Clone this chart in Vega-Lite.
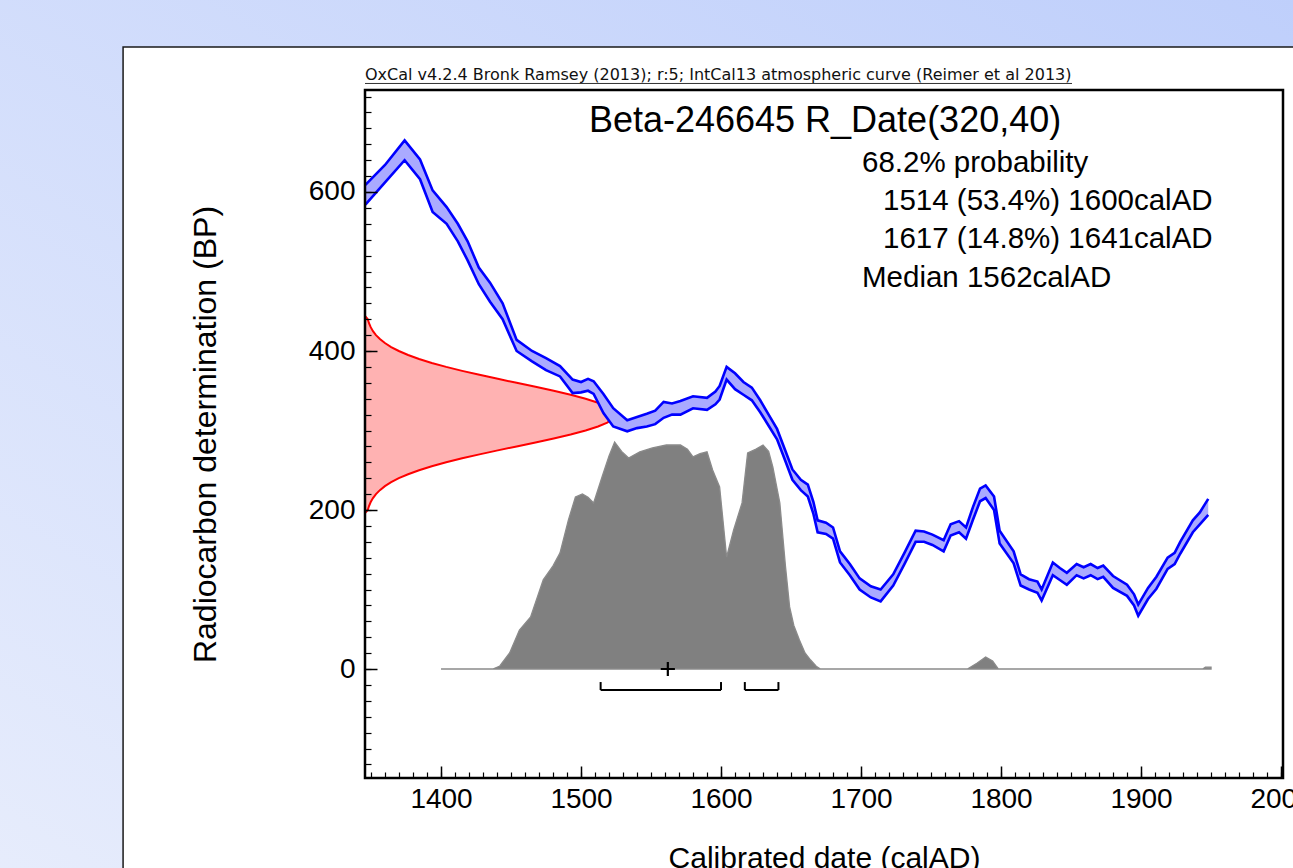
{
  "$schema": "https://vega.github.io/schema/vega-lite/v6.json",
  "width": 918,
  "height": 688,
  "autosize": {"type": "none"},
  "padding": {"left": 365, "top": 90, "right": 10, "bottom": 90},
  "background": "#d2ddfb",
  "config": {"view": {"stroke": null}, "font": "Liberation Sans"},
  "datasets": {
    "curve": [
      {"year": 1346, "lo": 584, "hi": 609}, {"year": 1360, "lo": 612, "hi": 634}, {"year": 1374, "lo": 640, "hi": 665},
      {"year": 1385, "lo": 616, "hi": 641}, {"year": 1394, "lo": 575, "hi": 602}, {"year": 1404, "lo": 560, "hi": 581},
      {"year": 1412, "lo": 538, "hi": 560}, {"year": 1419, "lo": 514, "hi": 538}, {"year": 1427, "lo": 484, "hi": 505},
      {"year": 1435, "lo": 462, "hi": 486}, {"year": 1444, "lo": 440, "hi": 460}, {"year": 1454, "lo": 400, "hi": 414},
      {"year": 1465, "lo": 387, "hi": 400}, {"year": 1475, "lo": 376, "hi": 391}, {"year": 1485, "lo": 368, "hi": 381},
      {"year": 1494, "lo": 347, "hi": 364}, {"year": 1500, "lo": 348, "hi": 361}, {"year": 1505, "lo": 350, "hi": 365},
      {"year": 1509, "lo": 346, "hi": 362}, {"year": 1516, "lo": 322, "hi": 346}, {"year": 1523, "lo": 305, "hi": 328},
      {"year": 1533, "lo": 299, "hi": 313}, {"year": 1540, "lo": 303, "hi": 317}, {"year": 1547, "lo": 305, "hi": 321},
      {"year": 1553, "lo": 308, "hi": 325}, {"year": 1559, "lo": 316, "hi": 336}, {"year": 1565, "lo": 320, "hi": 334},
      {"year": 1571, "lo": 320, "hi": 337}, {"year": 1580, "lo": 328, "hi": 343}, {"year": 1590, "lo": 326, "hi": 341},
      {"year": 1596, "lo": 333, "hi": 349}, {"year": 1599, "lo": 339, "hi": 356}, {"year": 1604, "lo": 364, "hi": 380},
      {"year": 1610, "lo": 352, "hi": 372}, {"year": 1616, "lo": 345, "hi": 361}, {"year": 1622, "lo": 338, "hi": 354},
      {"year": 1628, "lo": 323, "hi": 338}, {"year": 1634, "lo": 306, "hi": 320}, {"year": 1640, "lo": 289, "hi": 302},
      {"year": 1645, "lo": 266, "hi": 279}, {"year": 1651, "lo": 238, "hi": 251}, {"year": 1657, "lo": 225, "hi": 238},
      {"year": 1662, "lo": 217, "hi": 232}, {"year": 1666, "lo": 195, "hi": 210}, {"year": 1669, "lo": 172, "hi": 187},
      {"year": 1675, "lo": 170, "hi": 184}, {"year": 1680, "lo": 164, "hi": 178}, {"year": 1685, "lo": 134, "hi": 148},
      {"year": 1692, "lo": 118, "hi": 132}, {"year": 1699, "lo": 100, "hi": 114}, {"year": 1707, "lo": 90, "hi": 104},
      {"year": 1714, "lo": 85, "hi": 100}, {"year": 1723, "lo": 105, "hi": 119}, {"year": 1731, "lo": 132, "hi": 146},
      {"year": 1739, "lo": 160, "hi": 174}, {"year": 1745, "lo": 160, "hi": 173}, {"year": 1751, "lo": 156, "hi": 169},
      {"year": 1759, "lo": 148, "hi": 162}, {"year": 1764, "lo": 168, "hi": 182}, {"year": 1770, "lo": 172, "hi": 186},
      {"year": 1775, "lo": 164, "hi": 178}, {"year": 1780, "lo": 188, "hi": 204}, {"year": 1785, "lo": 211, "hi": 227},
      {"year": 1789, "lo": 215, "hi": 231}, {"year": 1795, "lo": 200, "hi": 217}, {"year": 1799, "lo": 158, "hi": 174},
      {"year": 1809, "lo": 133, "hi": 148}, {"year": 1814, "lo": 105, "hi": 119}, {"year": 1820, "lo": 100, "hi": 113},
      {"year": 1826, "lo": 96, "hi": 110}, {"year": 1829, "lo": 86, "hi": 100}, {"year": 1837, "lo": 118, "hi": 134},
      {"year": 1842, "lo": 112, "hi": 127}, {"year": 1847, "lo": 106, "hi": 121}, {"year": 1854, "lo": 118, "hi": 132},
      {"year": 1859, "lo": 114, "hi": 128}, {"year": 1864, "lo": 118, "hi": 132}, {"year": 1869, "lo": 113, "hi": 127},
      {"year": 1873, "lo": 116, "hi": 130}, {"year": 1880, "lo": 102, "hi": 117}, {"year": 1890, "lo": 92, "hi": 106},
      {"year": 1895, "lo": 80, "hi": 94}, {"year": 1898, "lo": 67, "hi": 81}, {"year": 1905, "lo": 88, "hi": 102},
      {"year": 1911, "lo": 101, "hi": 116}, {"year": 1919, "lo": 126, "hi": 140}, {"year": 1924, "lo": 132, "hi": 146},
      {"year": 1928, "lo": 145, "hi": 160}, {"year": 1937, "lo": 172, "hi": 187}, {"year": 1942, "lo": 182, "hi": 197},
      {"year": 1948, "lo": 194, "hi": 214}
    ],
    "calib": [
      {"year": 1400, "p": 0}, {"year": 1437, "p": 0}, {"year": 1442, "p": 0.013}, {"year": 1449, "p": 0.07},
      {"year": 1456, "p": 0.17}, {"year": 1464, "p": 0.227}, {"year": 1473, "p": 0.389}, {"year": 1480, "p": 0.45},
      {"year": 1485, "p": 0.507}, {"year": 1491, "p": 0.651}, {"year": 1496, "p": 0.751}, {"year": 1501, "p": 0.764},
      {"year": 1505, "p": 0.75}, {"year": 1509, "p": 0.725}, {"year": 1515, "p": 0.838}, {"year": 1520, "p": 0.93},
      {"year": 1524, "p": 0.991}, {"year": 1529, "p": 0.95}, {"year": 1534, "p": 0.921}, {"year": 1542, "p": 0.948},
      {"year": 1551, "p": 0.965}, {"year": 1561, "p": 0.978}, {"year": 1571, "p": 0.978}, {"year": 1576, "p": 0.96},
      {"year": 1580, "p": 0.926}, {"year": 1585, "p": 0.94}, {"year": 1590, "p": 0.948}, {"year": 1594, "p": 0.869},
      {"year": 1599, "p": 0.795}, {"year": 1604, "p": 0.489}, {"year": 1609, "p": 0.607}, {"year": 1615, "p": 0.725},
      {"year": 1619, "p": 0.943}, {"year": 1625, "p": 0.96}, {"year": 1630, "p": 0.978}, {"year": 1634, "p": 0.95},
      {"year": 1637, "p": 0.882}, {"year": 1642, "p": 0.725}, {"year": 1646, "p": 0.45}, {"year": 1649, "p": 0.271},
      {"year": 1652, "p": 0.19}, {"year": 1656, "p": 0.127}, {"year": 1660, "p": 0.07}, {"year": 1664, "p": 0.039},
      {"year": 1668, "p": 0.012}, {"year": 1671, "p": 0}, {"year": 1776, "p": 0}, {"year": 1783, "p": 0.026},
      {"year": 1789, "p": 0.052}, {"year": 1794, "p": 0.035}, {"year": 1798, "p": 0}, {"year": 1944, "p": 0},
      {"year": 1946, "p": 0.008}, {"year": 1950, "p": 0.008}
    ],
    "rdate": [
      {"bp": 196, "d": 0}, {"bp": 200, "d": 0.0111}, {"bp": 205, "d": 0.016}, {"bp": 210, "d": 0.0228}, {"bp": 215, "d": 0.0319},
      {"bp": 220, "d": 0.0439}, {"bp": 225, "d": 0.0596}, {"bp": 230, "d": 0.0796}, {"bp": 235, "d": 0.1046},
      {"bp": 240, "d": 0.1353}, {"bp": 245, "d": 0.1724}, {"bp": 250, "d": 0.2163}, {"bp": 255, "d": 0.2671},
      {"bp": 260, "d": 0.3247}, {"bp": 265, "d": 0.3886}, {"bp": 270, "d": 0.4578}, {"bp": 275, "d": 0.5311},
      {"bp": 280, "d": 0.6065}, {"bp": 285, "d": 0.682}, {"bp": 290, "d": 0.7548}, {"bp": 295, "d": 0.8226},
      {"bp": 300, "d": 0.8825}, {"bp": 305, "d": 0.9321}, {"bp": 310, "d": 0.9692}, {"bp": 315, "d": 0.9922},
      {"bp": 320, "d": 1}, {"bp": 325, "d": 0.9922}, {"bp": 330, "d": 0.9692}, {"bp": 335, "d": 0.9321},
      {"bp": 340, "d": 0.8825}, {"bp": 345, "d": 0.8226}, {"bp": 350, "d": 0.7548}, {"bp": 355, "d": 0.682},
      {"bp": 360, "d": 0.6065}, {"bp": 365, "d": 0.5311}, {"bp": 370, "d": 0.4578}, {"bp": 375, "d": 0.3886},
      {"bp": 380, "d": 0.3247}, {"bp": 385, "d": 0.2671}, {"bp": 390, "d": 0.2163}, {"bp": 395, "d": 0.1724},
      {"bp": 400, "d": 0.1353}, {"bp": 405, "d": 0.1046}, {"bp": 410, "d": 0.0796}, {"bp": 415, "d": 0.0596},
      {"bp": 420, "d": 0.0439}, {"bp": 425, "d": 0.0319}, {"bp": 430, "d": 0.0228}, {"bp": 435, "d": 0.016},
      {"bp": 440, "d": 0.0111}, {"bp": 444, "d": 0}
    ],
    "ranges": [{"from": 1514, "to": 1600, "pct": 53.4}, {"from": 1617, "to": 1641, "pct": 14.8}],
    "median": [{"year": 1562}]
  },
  "layer": [
    {
      "data": {"values": [{}]},
      "layer": [
        {
          "mark": {"type": "rect", "fill": {"gradient": "linear", "x1": 1, "y1": 0, "x2": 0, "y2": 1, "stops": [{"offset": 0, "color": "#bccdfb"}, {"offset": 1, "color": "#e9eefc"}]}, "strokeWidth": 0},
          "encoding": {
            "x": {"datum": 1000, "type": "quantitative", "scale": {"domain": [1345.7, 2001.4], "nice": false, "zero": false}, "axis": null},
            "x2": {"datum": 2100},
            "y": {"datum": 900, "type": "quantitative", "scale": {"domain": [-137.1, 728.3], "nice": false, "zero": false}, "axis": null},
            "y2": {"datum": -300}
          }
        },
        {
          "mark": {"type": "rect", "fill": "#ffffff", "stroke": "#1a1a1a", "strokeWidth": 1.5},
          "encoding": {
            "x": {"datum": 1172.9, "type": "quantitative"},
            "x2": {"datum": 2100},
            "y": {"datum": 782.4, "type": "quantitative"},
            "y2": {"datum": -300}
          }
        }
      ]
    },
    {
      "data": {"name": "rdate"},
      "encoding": {
        "y": {"field": "bp", "type": "quantitative", "scale": {"domain": [-137.1, 728.3], "nice": false, "zero": false}, "axis": null},
        "x": {"field": "d", "type": "quantitative", "scale": {"domain": [0, 3.672], "nice": false, "zero": false}, "axis": null}
      },
      "layer": [
        {"mark": {"type": "area", "orient": "horizontal", "fill": "#ffb2b2", "opacity": 1}, "encoding": {"x2": {"datum": 0}}},
        {"mark": {"type": "line", "color": "#ff0000", "strokeWidth": 2}, "encoding": {"order": {"field": "bp", "type": "quantitative"}}}
      ]
    },
    {
      "data": {"name": "calib"},
      "mark": {"type": "area", "orient": "vertical", "fill": "#808080", "stroke": "#8a8a8a", "strokeWidth": 1.3, "opacity": 1},
      "encoding": {
        "x": {"field": "year", "type": "quantitative", "scale": {"domain": [1345.7, 2001.4], "nice": false, "zero": false}, "axis": null},
        "y": {"field": "p", "type": "quantitative", "scale": {"domain": [-0.476, 2.528], "nice": false, "zero": false}, "axis": null},
        "y2": {"datum": 0}
      }
    },
    {
      "layer": [
        {
          "data": {"name": "curve"},
          "mark": {"type": "area", "fill": "#aaaaff", "opacity": 1},
          "encoding": {
            "x": {"field": "year", "type": "quantitative", "scale": {"domain": [1345.7, 2001.4], "nice": false, "zero": false},
              "axis": {"orient": "bottom", "values": [1400, 1500, 1600, 1700, 1800, 1900, 2000], "format": "d", "domain": false, "grid": false, "tickSize": -12, "tickWidth": 1.5, "tickColor": "#000000", "labelFont": "Liberation Sans", "labelFontSize": 28, "labelColor": "#000000", "labelPadding": 19, "labelOverlap": false, "labelFlush": false, "labelBound": false, "title": "Calibrated date (calAD)", "titleFont": "Liberation Sans", "titleFontSize": 30, "titleFontWeight": "normal", "titleColor": "#000000", "titlePadding": 30, "zindex": 1}},
            "y": {"field": "hi", "type": "quantitative", "scale": {"domain": [-137.1, 728.3], "nice": false, "zero": false},
              "axis": {"orient": "left", "values": [0, 200, 400, 600], "format": "d", "domain": false, "grid": false, "tickSize": -12, "tickWidth": 1.5, "tickColor": "#000000", "labelFont": "Liberation Sans", "labelFontSize": 28, "labelColor": "#000000", "labelPadding": 22, "labelOverlap": false, "labelBound": false, "title": "Radiocarbon determination (BP)", "titleFont": "Liberation Sans", "titleFontSize": 32, "titleFontWeight": "normal", "titleColor": "#000000", "titlePadding": 86, "zindex": 1}},
            "y2": {"field": "lo"}
          }
        },
        {
          "data": {"name": "curve"},
          "mark": {"type": "line", "color": "#0000ff", "strokeWidth": 2.6},
          "encoding": {"x": {"field": "year", "type": "quantitative"}, "y": {"field": "hi", "type": "quantitative"}}
        },
        {
          "data": {"name": "curve"},
          "mark": {"type": "line", "color": "#0000ff", "strokeWidth": 2.6},
          "encoding": {"x": {"field": "year", "type": "quantitative"}, "y": {"field": "lo", "type": "quantitative"}}
        },
        {
          "data": {"name": "ranges"},
          "mark": {"type": "rule", "color": "#000000", "strokeWidth": 2},
          "encoding": {"x": {"field": "from", "type": "quantitative"}, "x2": {"field": "to"}, "y": {"datum": -26.4, "type": "quantitative"}}
        },
        {
          "data": {"name": "ranges"},
          "mark": {"type": "rule", "color": "#000000", "strokeWidth": 2},
          "encoding": {"x": {"field": "from", "type": "quantitative"}, "y": {"datum": -26.4, "type": "quantitative"}, "y2": {"datum": -16.4}}
        },
        {
          "data": {"name": "ranges"},
          "mark": {"type": "rule", "color": "#000000", "strokeWidth": 2},
          "encoding": {"x": {"field": "to", "type": "quantitative"}, "y": {"datum": -26.4, "type": "quantitative"}, "y2": {"datum": -16.4}}
        },
        {
          "data": {"name": "median"},
          "mark": {"type": "point", "shape": "M-1,0L1,0M0,-1L0,1", "size": 200, "filled": false, "stroke": "#000000", "strokeWidth": 2.2, "opacity": 1},
          "encoding": {"x": {"field": "year", "type": "quantitative"}, "y": {"datum": 0, "type": "quantitative"}}
        },
        {
          "data": {"values": [{}]},
          "mark": {"type": "text", "text": "OxCal v4.2.4 Bronk Ramsey (2013); r:5; IntCal13 atmospheric curve (Reimer et al 2013)", "font": "DejaVu Sans", "fontSize": 16, "align": "left", "baseline": "alphabetic", "color": "#111111"},
          "encoding": {"x": {"datum": 1345.7, "type": "quantitative"}, "y": {"datum": 740.9, "type": "quantitative"}}
        },
        {
          "data": {"values": [{}]},
          "mark": {"type": "rule", "color": "#333333", "strokeWidth": 1},
          "encoding": {"x": {"datum": 1345.7, "type": "quantitative"}, "x2": {"datum": 1850.7}, "y": {"datum": 736.5, "type": "quantitative"}}
        },
        {
          "data": {"values": [{}]},
          "mark": {"type": "text", "text": "Beta-246645 R_Date(320,40)", "font": "Liberation Sans", "fontSize": 36, "align": "center", "baseline": "alphabetic", "color": "#000000"},
          "encoding": {"x": {"datum": 1674.3, "type": "quantitative"}, "y": {"datum": 675.5, "type": "quantitative"}}
        },
        {
          "data": {"values": [{}]},
          "mark": {"type": "text", "text": "68.2% probability", "font": "Liberation Sans", "fontSize": 29.5, "align": "left", "baseline": "alphabetic", "color": "#000000"},
          "encoding": {"x": {"datum": 1700.7, "type": "quantitative"}, "y": {"datum": 625.2, "type": "quantitative"}}
        },
        {
          "data": {"values": [{}]},
          "mark": {"type": "text", "text": "1514 (53.4%) 1600calAD", "font": "Liberation Sans", "fontSize": 29.5, "align": "left", "baseline": "alphabetic", "color": "#000000"},
          "encoding": {"x": {"datum": 1715.7, "type": "quantitative"}, "y": {"datum": 577.4, "type": "quantitative"}}
        },
        {
          "data": {"values": [{}]},
          "mark": {"type": "text", "text": "1617 (14.8%) 1641calAD", "font": "Liberation Sans", "fontSize": 29.5, "align": "left", "baseline": "alphabetic", "color": "#000000"},
          "encoding": {"x": {"datum": 1715.7, "type": "quantitative"}, "y": {"datum": 529.6, "type": "quantitative"}}
        },
        {
          "data": {"values": [{}]},
          "mark": {"type": "text", "text": "Median 1562calAD", "font": "Liberation Sans", "fontSize": 29.5, "align": "left", "baseline": "alphabetic", "color": "#000000"},
          "encoding": {"x": {"datum": 1700.7, "type": "quantitative"}, "y": {"datum": 480.5, "type": "quantitative"}}
        }
      ]
    },
    {
      "data": {"values": [{}]},
      "mark": {"type": "rect", "fill": "#ffffff", "fillOpacity": 0, "stroke": "#000000", "strokeWidth": 2.5},
      "encoding": {
        "x": {"datum": 1345.7, "type": "quantitative", "scale": {"domain": [1345.7, 2001.4], "nice": false, "zero": false},
          "axis": {"orient": "bottom", "values": [1350, 1360, 1370, 1380, 1390, 1400, 1410, 1420, 1430, 1440, 1450, 1460, 1470, 1480, 1490, 1500, 1510, 1520, 1530, 1540, 1550, 1560, 1570, 1580, 1590, 1600, 1610, 1620, 1630, 1640, 1650, 1660, 1670, 1680, 1690, 1700, 1710, 1720, 1730, 1740, 1750, 1760, 1770, 1780, 1790, 1800, 1810, 1820, 1830, 1840, 1850, 1860, 1870, 1880, 1890, 1900, 1910, 1920, 1930, 1940, 1950, 1960, 1970, 1980, 1990, 2000], "domain": false, "labels": false, "grid": false, "tickSize": -6, "tickWidth": 1.2, "tickColor": "#000000", "title": null, "zindex": 1}},
        "x2": {"datum": 2001.4},
        "y": {"datum": -137.1, "type": "quantitative", "scale": {"domain": [-137.1, 728.3], "nice": false, "zero": false},
          "axis": {"orient": "left", "values": [-120, -100, -80, -60, -40, -20, 0, 20, 40, 60, 80, 100, 120, 140, 160, 180, 200, 220, 240, 260, 280, 300, 320, 340, 360, 380, 400, 420, 440, 460, 480, 500, 520, 540, 560, 580, 600, 620, 640, 660, 680, 700, 720], "domain": false, "labels": false, "grid": false, "tickSize": -6, "tickWidth": 1.2, "tickColor": "#000000", "title": null, "zindex": 1}},
        "y2": {"datum": 728.3}
      }
    }
  ],
  "resolve": {"scale": {"x": "independent", "y": "independent"}, "axis": {"x": "independent", "y": "independent"}}
}
